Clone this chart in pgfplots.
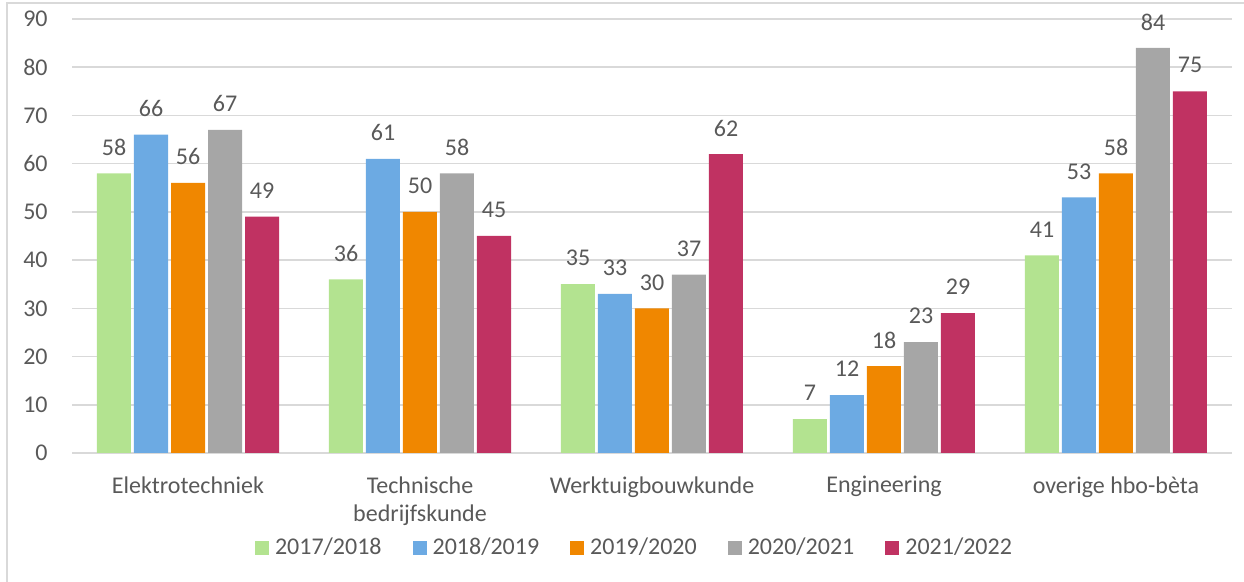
\documentclass[border=0pt]{standalone}
\usepackage{fontspec}
\setmainfont{Carlito}
\usepackage{pgfplots}
\pgfplotsset{compat=1.18}
\definecolor{txt}{HTML}{595959}
\definecolor{gridc}{HTML}{D9D9D9}
\definecolor{c1}{HTML}{B3E390}
\definecolor{c2}{HTML}{6CAAE3}
\definecolor{c3}{HTML}{F08700}
\definecolor{c4}{HTML}{A6A6A6}
\definecolor{c5}{HTML}{C03262}
\begin{document}
\begin{tikzpicture}
\useasboundingbox (0,0) rectangle (622pt,291pt);
\draw[gridc, line width=0.6pt] (3.5pt,-2pt) -- (3.5pt,289.5pt) -- (630pt,289.5pt);
\begin{axis}[
  at={(36pt,64.5pt)}, anchor=south west,
  scale only axis, width=580pt, height=217pt,
  xmin=-0.5, xmax=4.5, ymin=0, ymax=90,
  ytick={0,10,...,90},
  xtick={0,1,2,3,4},
  xticklabels={Elektrotechniek,{Technische\\bedrijfskunde},Werktuigbouwkunde,Engineering,overige hbo-bèta},
  /pgf/number format/assume math mode=true,
  axis line style={draw=none},
  major tick length=0pt,
  ymajorgrids, grid style={gridc, line width=0.8pt},
  ticklabel style={font=\fontsize{12}{14}\selectfont, text=txt},
  yticklabel style={anchor=east, inner sep=0pt, xshift=-12pt},
  xticklabel style={anchor=north, inner sep=0pt, yshift=-11.5pt, align=center},
  ybar=1.5pt, bar width=17pt,
  nodes near coords,
  every node near coord/.append style={font=\fontsize{12}{14}\selectfont, text=txt, anchor=center, inner sep=0pt, yshift=13pt},
  legend columns=5,
  legend style={draw=none, fill=none, at={(281.75pt,-47.5pt)}, anchor=center,
    font=\fontsize{12}{14}\selectfont, text=txt, inner sep=0pt,
    /tikz/every even column/.append style={column sep=13.5pt},
    /tikz/every odd column/.append style={column sep=1pt}},
  every axis plot/.append style={draw=none,
    legend image code/.code={\fill[##1] (0pt,-3.5pt) rectangle (7pt,3.5pt);}},
]
\addplot[fill=c1] coordinates {(0,58) (1,36) (2,35) (3,7) (4,41)};
\addplot[fill=c2] coordinates {(0,66) (1,61) (2,33) (3,12) (4,53)};
\addplot[fill=c3] coordinates {(0,56) (1,50) (2,30) (3,18) (4,58)};
\addplot[fill=c4] coordinates {(0,67) (1,58) (2,37) (3,23) (4,84)};
\addplot[fill=c5] coordinates {(0,49) (1,45) (2,62) (3,29) (4,75)};
\legend{2017/2018,2018/2019,2019/2020,2020/2021,2021/2022}
\end{axis}
\end{tikzpicture}
\end{document}
